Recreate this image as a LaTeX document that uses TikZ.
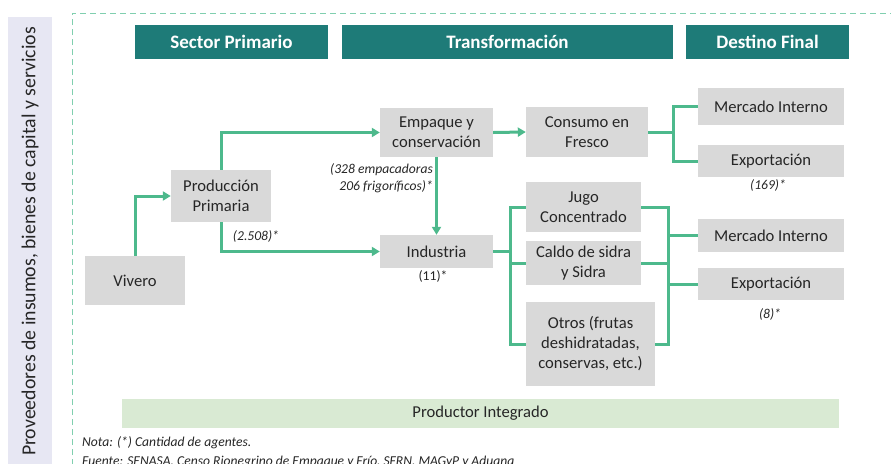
\documentclass[tikz,border=0pt]{standalone}
\usepackage{fontspec}
\setmainfont{Carlito}
\usetikzlibrary{arrows.meta}
\definecolor{teal1}{HTML}{1E7B78}
\definecolor{conng}{HTML}{4DB98C}
\definecolor{boxg}{HTML}{D9D9D9}
\definecolor{pig}{HTML}{D9EAD3}
\definecolor{bandc}{HTML}{E7E7F3}
\definecolor{dashc}{HTML}{80CFAF}
\definecolor{txt}{HTML}{262626}
\tikzset{
  hdr/.style={fill=teal1, text=white, font=\fontsize{19}{22}\selectfont\bfseries, inner sep=0pt, minimum height=34pt},
  gbox/.style={fill=boxg, text=txt, align=center, inner sep=0pt, font=\fontsize{16.6}{20}\selectfont},
  conn/.style={draw=conng, line width=3pt, -{Triangle[length=8pt,width=9pt]}},
  plain/.style={draw=conng, line width=3pt},
  lab/.style={text=txt, font=\fontsize{13.6}{16.5}\selectfont\itshape, inner sep=0pt},
}
\begin{document}
\begin{tikzpicture}[x=1pt,y=-1pt]
\useasboundingbox (0,0) rectangle (891,463);
% left band
\fill[bandc] (8,17) rectangle (52,475);
\node[rotate=90, text=txt, font=\fontsize{19.8}{22}\selectfont, inner sep=0pt] (prov) at (30,241.5) {Proveedores de insumos, bienes de capital y servicios};
% dashed frame
\draw[dashc, line width=1pt, dash pattern=on 6pt off 4pt] (72,475) -- (72,13) -- (900,13);
% headers
\node[hdr, minimum width=193pt] (sp) at (231.5,42) {Sector Primario};
\node[hdr, minimum width=331pt] (tr) at (507.5,42) {Transformación};
\node[hdr, minimum width=163pt] (df) at (767.5,42) {Destino Final};
% boxes
\node[gbox, minimum width=100pt, minimum height=49pt] (viv) at (135,280.5) {Vivero};
\node[gbox, minimum width=100pt, minimum height=52pt] (prod) at (221,196) {Producción\\Primaria};
\node[gbox, minimum width=113pt, minimum height=49pt] (emp) at (436.5,132.5) {Empaque y\\conservación};
\node[gbox, minimum width=122pt, minimum height=50pt] (cons) at (587,132) {Consumo en\\Fresco};
\node[gbox, minimum width=113pt, minimum height=33pt] (ind) at (436.5,251.5) {Industria};
\node[gbox, minimum width=115pt, minimum height=50pt] (jugo) at (583.5,207) {Jugo\\Concentrado};
\node[gbox, minimum width=115pt, minimum height=44pt] (caldo) at (583.5,263) {Caldo de sidra\\y Sidra};
\node[gbox, minimum width=129pt, minimum height=84pt] (otros) at (590.5,344) {Otros (frutas\\deshidratadas,\\conservas, etc.)};
\node[gbox, minimum width=146pt, minimum height=37pt] (mi1) at (771,106.5) {Mercado Interno};
\node[gbox, minimum width=146pt, minimum height=32pt] (exp1) at (771,161) {Exportación};
\node[gbox, minimum width=146pt, minimum height=33pt] (mi2) at (771,235.5) {Mercado Interno};
\node[gbox, minimum width=146pt, minimum height=32pt] (exp2) at (771,284) {Exportación};
\node[gbox, fill=pig, minimum width=717pt, minimum height=29pt] (pi) at (480.5,413.5) {Productor Integrado};
% labels
\node[lab] (l2508) at (256,236) {(2.508)*};
\node[lab, align=right, anchor=east] (l328) at (433,178) {(328 empacadoras\\206 frigoríficos)*};
\node[lab, font=\fontsize{13.6}{16.5}\selectfont] (l11) at (433,276) {(11)*};
\node[lab] (l169) at (768,185) {(169)*};
\node[lab] (l8) at (770,314) {(8)*};
\node[lab, anchor=west] (nota) at (82,443) {Nota: (*) Cantidad de agentes.};
\node[lab, anchor=west] (fuente) at (82,462) {Fuente: SENASA, Censo Rionegrino de Empaque y Frío, SFRN, MAGyP y Aduana};
% connectors
\draw[conn] (viv.north) |- (prod.west);
\draw[conn] (prod.north) |- (emp.west);
\draw[conn] (prod.south) |- (ind.west);
\draw[conn] (emp.south) -- (ind.north);
\draw[conn] (emp.east) -- (cons.west);
\coordinate (b1) at (673,132);
\draw[plain] (cons.east) -- (b1);
\draw[plain] (mi1.west) -| (b1);
\draw[plain] (exp1.west) -| (b1);
\coordinate (b2) at (510,251.5);
\draw[plain] (ind.east) -- (b2);
\draw[plain] (jugo.west) -| (b2);
\draw[plain] (caldo.west) -| (b2);
\draw[plain] (otros.west) -| (b2);
\coordinate (b3) at (668,263);
\draw[plain] (jugo.east) -| (b3);
\draw[plain] (caldo.east) -- (b3);
\draw[plain] (otros.east) -| (b3);
\draw[plain] (mi2.west) -| (b3);
\draw[plain] (exp2.west) -| (b3);
\end{tikzpicture}
\end{document}
